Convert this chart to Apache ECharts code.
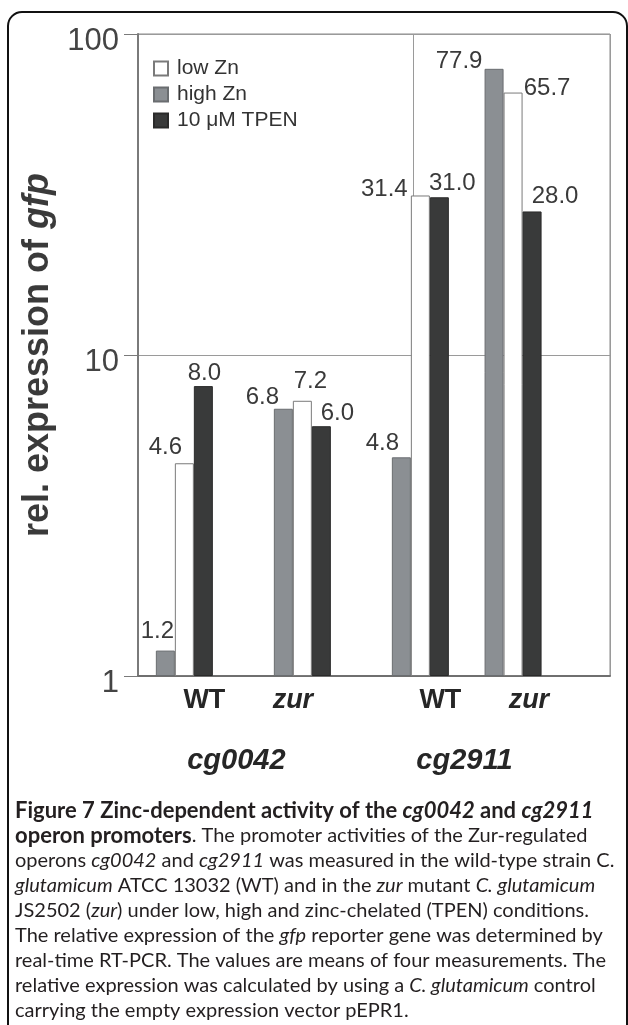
<!DOCTYPE html>
<html>
<head>
<meta charset="utf-8">
<script src="https://cdn.jsdelivr.net/npm/echarts@6/dist/echarts.min.js"></script>
<style>
html,body{margin:0;padding:0;background:#fff;}
#chart{width:628px;height:1025px;}
</style>
</head>
<body>
<div id="chart"></div>
<script>
// ---- data ----
const strains = ['WT', 'zur', 'WT', 'zur'];
const promoters = ['cg0042', 'cg2911'];
const seriesNames = ['high Zn', 'low Zn', '10 μM TPEN'];
const legendOrder = ['low Zn', 'high Zn', '10 μM TPEN'];
const highZn = [1.2, 6.8, 4.8, 77.9];
const lowZn = [4.6, 7.2, 31.4, 65.7];
const tpen = [8.0, 6.0, 31.0, 28.0];
const yTicks = [1, 10, 100];

// ---- layout (slot positions on hidden category scales) ----
const barSlotCount = 56, barSlots = [5, 19, 33, 44];
const strainSlotCount = 32, strainSlots = [4, 10, 20, 26];
const promSlotCount = 60, promSlots = [12, 41], separatorEvery = 34;
const labelNudge = [
  [[-8, -7], [-21, 1], [-19, -2], [-35, 5]],   // high Zn
  [[-19, -4], [8, -7], [-36, 6], [34, 8]],     // low Zn
  [[1, -1], [16, -1], [13, -2], [23, -3]]      // TPEN
];
const colors = ['#8b8f93', '#ffffff', '#393a3a'];
const borders = ['#6a6d70', '#7a7a7a', '#2a2a2a'];

function slots(n, at, labels) {
  const a = new Array(n).fill('');
  at.forEach((s, k) => { a[s] = labels[k]; });
  return a;
}
const barAxisData = Array.from({length: barSlotCount}, (_, i) => 's' + i);
const strainAxisData = slots(strainSlotCount, strainSlots, strains);
const promAxisData = slots(promSlotCount, promSlots, promoters);

function buildData(values, si) {
  const d = new Array(barSlotCount).fill('-');
  values.forEach((v, k) => {
    d[barSlots[k]] = { value: v, label: { offset: labelNudge[si][k] } };
  });
  return d;
}
const allValues = [highZn, lowZn, tpen];

const FONT = 'Liberation Sans, Arial, sans-serif';
const CAP = 'Lato, Open Sans, sans-serif';
const capSize = 20, capBold = 22, capLH = 25;
function rs(extra) { return Object.assign({fontFamily: CAP, fontSize: capSize, lineHeight: capLH, color: '#231f20', fontWeight: 'normal', fontStyle: 'normal'}, extra || {}); }

const caption = [
  '{b|Figure 7 Zinc-dependent activity of the }{bi|cg0042}{b| and }{bi|cg2911}',
  '{b|operon promoters}{n|. The promoter activities of the Zur-regulated}',
  '{n|operons }{i|cg0042}{n| and }{i|cg2911}{n| was measured in the wild-type strain C.}',
  '{i|glutamicum}{n| ATCC 13032 (WT) and in the }{i|zur}{n| mutant }{i|C. glutamicum}',
  '{n|JS2502 (}{i|zur}{n|) under low, high and zinc-chelated (TPEN) conditions.}',
  '{n|The relative expression of the }{i|gfp}{n| reporter gene was determined by}',
  '{n|real-time RT-PCR. The values are means of four measurements. The}',
  '{n|relative expression was calculated by using a }{i|C. glutamicum}{n| control}',
  '{n|carrying the empty expression vector pEPR1.}'
].join('\n');

const gridBox = {left: 138, right: 18, top: 34, bottom: 349};

const option = {
  animation: false,
  backgroundColor: '#fff',
  title: {
    left: 10, top: 793,
    text: caption,
    textStyle: {
      fontFamily: CAP, fontSize: capSize, lineHeight: capLH, color: '#231f20', fontWeight: 'normal',
      rich: {
        n: rs(),
        b: rs({fontWeight: 'bold', fontSize: capBold}),
        bi: rs({fontWeight: 'bold', fontStyle: 'italic', fontSize: capBold}),
        i: rs({fontStyle: 'italic'})
      }
    }
  },
  legend: {
    orient: 'vertical', left: 153, top: 58, padding: 0,
    itemWidth: 14, itemHeight: 14, itemGap: 5,
    data: legendOrder,
    icon: 'rect',
    textStyle: {fontFamily: FONT, fontSize: 21, color: '#333', padding: [0, 0, 0, 4]}
  },
  grid: [
    Object.assign({show: true, borderColor: '#8a8a8a', borderWidth: 1, backgroundColor: 'transparent'}, gridBox),
    Object.assign({}, gridBox),
    Object.assign({}, gridBox)
  ],
  xAxis: [
    {
      gridIndex: 0, type: 'category', data: barAxisData, boundaryGap: true,
      axisLine: {show: true, lineStyle: {color: '#6f6f6f', width: 2}},
      axisTick: {show: false}, axisLabel: {show: false}, splitLine: {show: false}
    },
    {
      gridIndex: 1, type: 'category', data: strainAxisData, boundaryGap: true,
      axisLine: {show: false}, axisTick: {show: false}, splitLine: {show: false},
      axisLabel: {
        interval: 0, margin: 11, fontFamily: FONT, fontSize: 27, fontWeight: 'bold', color: '#262626',
        formatter: v => v === 'zur' ? '{i|zur}' : v,
        rich: {i: {fontFamily: FONT, fontSize: 27, fontWeight: 'bold', fontStyle: 'italic', color: '#262626'}}
      }
    },
    {
      gridIndex: 2, type: 'category', data: promAxisData, boundaryGap: true,
      axisLine: {show: false}, axisTick: {show: false},
      splitLine: {show: true, interval: separatorEvery, lineStyle: {color: '#9a9a9a', width: 1}},
      axisLabel: {
        interval: (i) => promSlots.indexOf(i) >= 0,
        margin: 70, fontFamily: FONT, fontSize: 29, fontWeight: 'bold', fontStyle: 'italic', color: '#262626'
      }
    }
  ],
  yAxis: [
    {
      gridIndex: 0, type: 'log', logBase: 10, min: yTicks[0], max: yTicks[yTicks.length - 1],
      axisLine: {show: true, lineStyle: {color: '#7a7a7a', width: 2}},
      axisTick: {show: true, length: 14, lineStyle: {color: '#7a7a7a', width: 1}},
      axisLabel: {fontFamily: FONT, fontSize: 31, color: '#444', margin: 19, verticalAlign: 'top', lineHeight: 14},
      splitLine: {show: true, lineStyle: {color: '#9a9a9a', width: 1}},
      minorTick: {show: false},
      name: 'rel. expression of {i|gfp}',
      nameLocation: 'middle', nameGap: 79,
      nameTextStyle: {
        fontFamily: FONT, fontSize: 36, fontWeight: 'bold', color: '#3a3a3a',
        rich: {i: {fontFamily: FONT, fontSize: 36, fontWeight: 'bold', fontStyle: 'italic', color: '#3a3a3a'}}
      }
    },
    {gridIndex: 1, type: 'value', show: false},
    {gridIndex: 2, type: 'value', show: false}
  ],
  series: seriesNames.map((name, si) => ({
    name: name, type: 'bar', xAxisIndex: 0, yAxisIndex: 0,
    barWidth: 19, barGap: '0%',
    data: buildData(allValues[si], si),
    itemStyle: {color: colors[si], borderColor: borders[si], borderWidth: 1},
    label: {
      show: true, position: 'top', distance: 0,
      fontFamily: FONT, fontSize: 24, color: '#3a3a3a',
      formatter: p => Number(p.value).toFixed(1)
    },
    z: 3
  })),
  graphic: [{
    type: 'rect', silent: true, z: 100,
    shape: {x: 8, y: 12, width: 619, height: 1040, r: 14},
    style: {fill: 'none', stroke: '#111', lineWidth: 2}
  }]
};

const chart = echarts.init(document.getElementById('chart'), null, {renderer: 'canvas'});
chart.setOption(option);
</script>
</body>
</html>
